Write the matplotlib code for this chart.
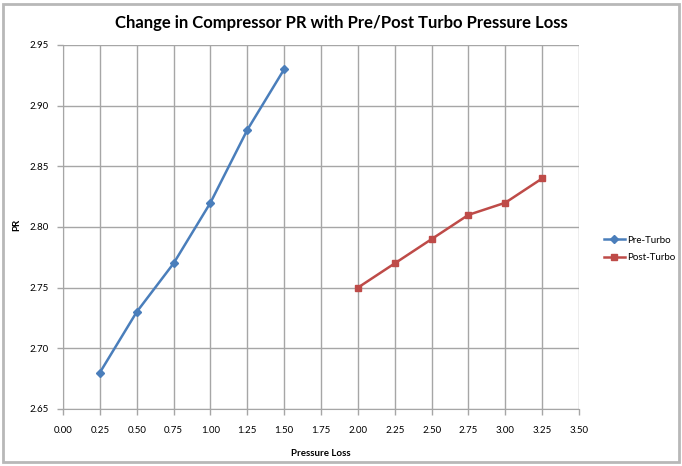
import matplotlib
matplotlib.use("Agg")
import matplotlib.pyplot as plt
from matplotlib.patches import Rectangle

plt.rcParams['font.family'] = ['Lato', 'DejaVu Sans']

pre_x = [0.25, 0.50, 0.75, 1.00, 1.25, 1.50]
pre_y = [2.68, 2.73, 2.77, 2.82, 2.88, 2.93]
post_x = [2.00, 2.25, 2.50, 2.75, 3.00, 3.25]
post_y = [2.75, 2.77, 2.79, 2.81, 2.82, 2.84]
x_ticks = [0.0, 0.25, 0.5, 0.75, 1.0, 1.25, 1.5, 1.75, 2.0, 2.25, 2.5, 2.75, 3.0, 3.25, 3.5]
y_ticks = [2.65, 2.70, 2.75, 2.80, 2.85, 2.90, 2.95]

fig = plt.figure(figsize=(6.82, 4.66), dpi=100)
fig.patches.append(Rectangle((3/682, 4/466), 676/682, 458/466, transform=fig.transFigure,
                             fill=False, edgecolor='#b8b8b8', linewidth=2))
ax = fig.add_axes([63/682, 1-409/466, 516/682, 364/466])

blue = '#4a7ebb'
red = '#be4b48'
ax.plot(pre_x, pre_y, color=blue, lw=1.8, marker='D', ms=4, label='Pre-Turbo', zorder=3)
ax.plot(post_x, post_y, color=red, lw=1.8, marker='s', ms=5, label='Post-Turbo', zorder=3)

ax.set_xlim(0, 3.5)
ax.set_ylim(2.65, 2.95)
ax.set_xticks(x_ticks)
ax.set_yticks(y_ticks)
ax.set_xticklabels([f'{v:.2f}' for v in x_ticks])
ax.set_yticklabels([f'{v:.2f}' for v in y_ticks])
ax.grid(True, color='#a6a6a6', lw=1)
ax.set_axisbelow(True)
for s in ['top', 'right']:
    ax.spines[s].set_visible(False)
for s in ['left', 'bottom']:
    ax.spines[s].set_color('#a6a6a6')
ax.tick_params(axis='both', colors='#a6a6a6', labelcolor='#000000', labelsize=7, length=4, width=1)
ax.tick_params(axis='x', pad=8)
ax.tick_params(axis='y', pad=6)

ax.set_xlabel('Pressure Loss', fontsize=7, fontweight='bold', labelpad=10)
fig.text(17/682, 1-225/466, 'PR', rotation=90, fontsize=7, fontweight='bold', ha='center', va='center')
fig.text(341/682, 1-23/466, 'Change in Compressor PR with Pre/Post Turbo Pressure Loss',
         fontsize=12, fontweight='bold', ha='center', va='center')

ax.legend(loc='center left', bbox_to_anchor=(595/682, 1-249/466), bbox_transform=fig.transFigure,
          frameon=False, fontsize=7, handlelength=2.2, handletextpad=0.2, labelspacing=0.9)

fig.savefig('out.png', dpi=100)
